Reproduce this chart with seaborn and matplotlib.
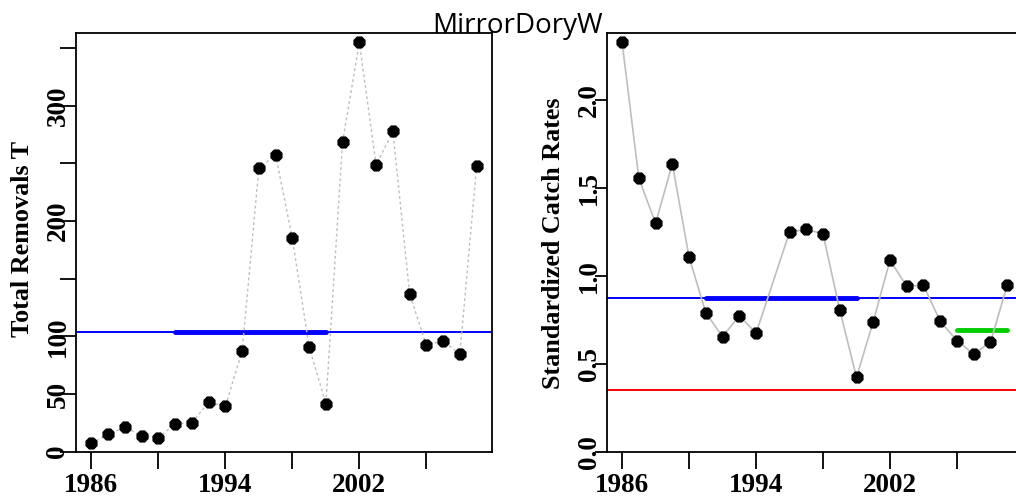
import numpy as np
import pandas as pd
import matplotlib
matplotlib.use("Agg")
import matplotlib.pyplot as plt
import seaborn as sns

# ---------------- data ----------------
years_catch = [1986, 1987, 1988, 1989, 1990, 1991, 1992, 1993, 1994, 1995, 1996, 1997,
               1998, 1999, 2000, 2001, 2002, 2003, 2004, 2005, 2006, 2007, 2008, 2009]
catch_t = [7.3, 15.1, 21.2, 13.9, 12.2, 24.0, 25.2, 42.8, 39.4, 87.3, 246.0, 257.3,
           185.0, 91.0, 41.6, 268.9, 355.0, 248.6, 277.9, 137.0, 92.3, 96.3, 84.7, 247.5]
catch_ref = 104.0            # average catch over 1991-2000
catch_ref_span = [1991, 2000]

years_cpue = [1986, 1987, 1988, 1989, 1990, 1991, 1992, 1993, 1994, 1996, 1997, 1998,
              1999, 2000, 2001, 2002, 2003, 2004, 2005, 2006, 2007, 2008, 2009]
cpue = [2.326, 1.553, 1.298, 1.636, 1.105, 0.790, 0.653, 0.773, 0.673, 1.247, 1.264, 1.237,
        0.805, 0.423, 0.739, 1.088, 0.940, 0.945, 0.741, 0.631, 0.555, 0.622, 0.945]
cpue_target = 0.873          # mean 1991-2000
cpue_target_span = [1991, 2000]
cpue_limit = 0.349           # 40% of target
cpue_recent = 0.690          # mean of last four years
cpue_recent_span = [2006, 2009]

x_ticks = [1986, 1990, 1994, 1998, 2002, 2006]
x_ticklabels = ["1986", "", "1994", "", "2002", ""]
left_yticks = [0, 50, 100, 150, 200, 250, 300, 350]
left_yticklabels = ["0", "50", "100", "", "200", "", "300", ""]
right_yticks = [0.0, 0.5, 1.0, 1.5, 2.0]
right_yticklabels = ["0.0", "0.5", "1.0", "1.5", "2.0"]

title = "MirrorDoryW"
left_ylabel = "Total Removals T"
right_ylabel = "Standardized Catch Rates"

# ---------------- style ----------------
sns.set_theme(style="ticks")
plt.rcParams["font.family"] = ["Liberation Serif", "DejaVu Serif"]
plt.rcParams["font.weight"] = "bold"
plt.rcParams["text.color"] = "black"
plt.rcParams["axes.labelcolor"] = "black"
plt.rcParams["xtick.color"] = "black"
plt.rcParams["ytick.color"] = "black"

W, H = 1016, 497
fig = plt.figure(figsize=(W / 100, H / 100), dpi=100)

def px_axes(x0, x1, y0, y1):
    return fig.add_axes([x0 / W, 1 - y1 / H, (x1 - x0) / W, (y1 - y0) / H])

ax1 = px_axes(76, 492, 33, 451.7)
ax2 = px_axes(606.7, 1022.6, 33, 451.7)

xlim = (1985.08, 2009.92)
GREY = "#BEBEBE"
FS_TICK = 19.5
FS_LAB = 18.8

df_c = pd.DataFrame({"year": years_catch, "val": catch_t})
df_p = pd.DataFrame({"year": years_cpue, "val": cpue})

# left panel
sns.lineplot(data=df_c, x="year", y="val", ax=ax1, color=GREY, linestyle=(0, (2, 2)),
             linewidth=1.0, zorder=2)
ax1.axhline(catch_ref, color="blue", linewidth=1.4, zorder=1)
sns.lineplot(x=catch_ref_span, y=[catch_ref, catch_ref], ax=ax1, color="blue",
             linewidth=3.5, zorder=1.5, solid_capstyle="round")
sns.scatterplot(data=df_c, x="year", y="val", ax=ax1, color="black", s=90,
                marker="8", linewidth=0, zorder=3)
ax1.set_ylim(0, 363.2)
ax1.set_yticks(left_yticks)
ax1.set_yticklabels(left_yticklabels, rotation=90, va="center", fontsize=FS_TICK,
                    fontweight="bold")
ax1.tick_params(axis="y", length=11.5, width=1.3, pad=-7.5)
ax1.set_ylabel(left_ylabel, fontsize=FS_LAB, fontweight="bold")
ax1.yaxis.set_label_coords((34 - 76) / 416, 0.508)

# right panel
sns.lineplot(data=df_p, x="year", y="val", ax=ax2, color=GREY, linewidth=1.2, zorder=2)
ax2.axhline(cpue_target, color="blue", linewidth=1.4, zorder=1)
ax2.axhline(cpue_limit, color="red", linewidth=1.4, zorder=1)
sns.lineplot(x=cpue_target_span, y=[cpue_target, cpue_target], ax=ax2, color="blue",
             linewidth=3.5, zorder=1.5, solid_capstyle="round")
sns.lineplot(x=cpue_recent_span, y=[cpue_recent, cpue_recent], ax=ax2, color="#00CD00",
             linewidth=3.5, zorder=1.5, solid_capstyle="round")
sns.scatterplot(data=df_p, x="year", y="val", ax=ax2, color="black", s=90,
                marker="8", linewidth=0, zorder=3)
ax2.set_ylim(0, 2.379)
ax2.set_yticks(right_yticks)
ax2.set_yticklabels(right_yticklabels, rotation=90, va="center", fontsize=FS_TICK,
                    fontweight="bold")
ax2.tick_params(axis="y", length=8.6, width=1.3, pad=-5)
ax2.set_ylabel(right_ylabel, fontsize=FS_LAB, fontweight="bold")
ax2.yaxis.set_label_coords((565 - 606.7) / 415.9, 0.497)

for ax in (ax1, ax2):
    ax.set_xlim(*xlim)
    ax.set_xticks(x_ticks)
    ax.set_xticklabels(x_ticklabels, fontsize=FS_TICK, fontweight="bold")
    ax.tick_params(axis="x", length=12, width=1.3, pad=3)
    ax.set_xlabel("")
    for s in ax.spines.values():
        s.set_visible(True)
        s.set_color("black")
        s.set_linewidth(1.3)
    ax.grid(False)
    ax.set_facecolor("white")

fig.text(517.5 / W, 1 - 33.3 / H, title, ha="center", va="baseline", fontsize=20,
         family=["Open Sans", "DejaVu Sans"], fontweight="normal", color="black")

fig.savefig("out.png", dpi=100, facecolor="white")
